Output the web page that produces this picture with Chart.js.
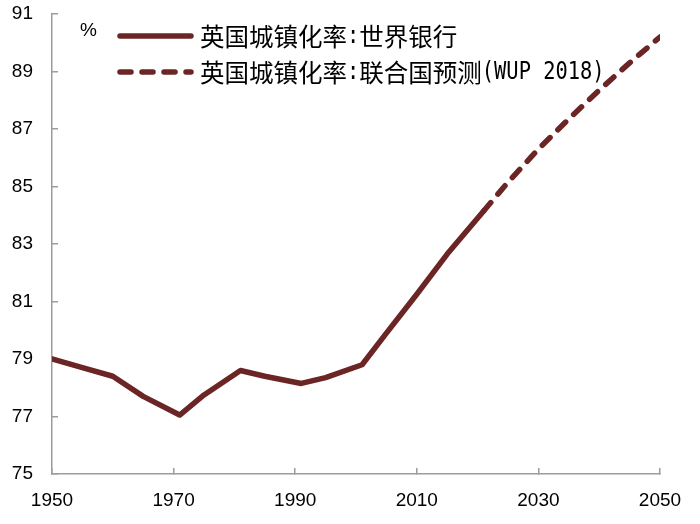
<!DOCTYPE html>
<html>
<head>
<meta charset="utf-8">
<script src="https://cdn.jsdelivr.net/npm/chart.js@4"></script>
<style>
  body { margin: 0; background: #fff; }
  #wrap { width: 700px; height: 524px; }
</style>
</head>
<body>
<div id="wrap"><canvas id="chart" width="700" height="524"></canvas></div>
<script>
// UK urbanisation rate (%), World Bank
const wbYears = [1950, 1955, 1960, 1965, 1971, 1975, 1981, 1985, 1991, 1995, 2001, 2005, 2010, 2015, 2021]
const wbValues = [79.0, 78.7, 78.4, 77.7, 77.05, 77.75, 78.6, 78.4, 78.15, 78.35, 78.8, 79.9, 81.25, 82.65, 84.15]

// UN projection (WUP 2018)
const unYears = [2021, 2025, 2030, 2035, 2040, 2045, 2050]
const unValues = [84.15, 85.15, 86.3, 87.35, 88.35, 89.3, 90.2]

const seriesNames = ['英国城镇化率:世界银行', '英国城镇化率:联合国预测(WUP 2018)']
const xTicks = [1950, 1970, 1990, 2010, 2030, 2050]
const yTicks = [75, 77, 79, 81, 83, 85, 87, 89, 91]

const lineColor = '#6b2525'
const axisColor = '#9c9c9c'

function toPoints(xs, ys) {
    return xs.map((x, i) => ({ x: x, y: ys[i] }))
}

// draws CJK runs full width and latin runs as narrow half-width glyphs
function drawMixedText(ctx, text, x, y) {
    const runs = text.match(/[\x20-\x7e]+|[^\x20-\x7e]+/g) || []
    for (let run of runs) {
        if (/^[\x20-\x7e]+$/.test(run)) {
            ctx.font = '24px "DejaVu Sans Mono"'
            const w = ctx.measureText(run).width * 0.85
            ctx.save()
            ctx.translate(x, y)
            ctx.scale(0.85, 1)
            ctx.fillText(run, 0, 0)
            ctx.restore()
            x += w
        } else {
            ctx.font = '24.5px "Noto Sans CJK SC"'
            ctx.fillText(run, x, y)
            x += ctx.measureText(run).width
        }
    }
}

// legend + unit label drawn on top of the plot
const legendPlugin = {
    id: 'insideLegend',
    afterDraw(chart) {
        const ctx = chart.ctx
        ctx.save()
        ctx.fillStyle = '#000'
        ctx.font = '19px "Liberation Sans", Arial'
        ctx.textBaseline = 'middle'
        ctx.textAlign = 'left'
        ctx.fillText('%', 80, 31)

        chart.data.datasets.forEach((ds, i) => {
            const y = 36 + i * 36
            ctx.strokeStyle = ds.borderColor
            ctx.lineWidth = ds.borderWidth
            ctx.lineCap = 'round'
            ctx.setLineDash(ds.borderDash || [])
            ctx.beginPath()
            ctx.moveTo(120, y)
            ctx.lineTo(191, y)
            ctx.stroke()
            ctx.setLineDash([])
            ctx.fillStyle = '#000'
            drawMixedText(ctx, ds.label, 200, y + 1)
        })
        ctx.restore()
    }
}

const ctx = document.getElementById('chart').getContext('2d')
const myChart = new Chart(ctx, {
    type: 'line',
    data: {
        datasets: [{
            label: seriesNames[0],
            data: toPoints(wbYears, wbValues),
            borderColor: lineColor,
            borderWidth: 5.5,
            borderCapStyle: 'round',
            borderJoinStyle: 'round',
            pointRadius: 0,
            tension: 0,
            fill: false
        }, {
            label: seriesNames[1],
            data: toPoints(unYears, unValues),
            borderColor: lineColor,
            borderWidth: 5.5,
            borderDash: [11, 11],
            borderCapStyle: 'round',
            pointRadius: 0,
            tension: 0,
            fill: false
        }]
    },
    options: {
        responsive: false,
        animation: false,
        layout: { padding: { top: 14, right: 40, left: 0, bottom: 0 } },
        plugins: {
            legend: { display: false },
            tooltip: { enabled: false }
        },
        scales: {
            x: {
                type: 'linear',
                min: 1950,
                max: 2050,
                afterFit: s => { s.height = 50; s.paddingLeft = 0; s.paddingRight = 0 },
                afterBuildTicks: s => { s.ticks = xTicks.map(v => ({ value: v })) },
                border: { color: axisColor, width: 1.5 },
                grid: { drawOnChartArea: false, drawTicks: true, tickLength: -6, color: axisColor, lineWidth: 1.5 },
                ticks: {
                    color: '#000',
                    font: { family: '"Liberation Sans", Arial', size: 19 },
                    padding: 21,
                    maxRotation: 0,
                    callback: v => String(v)
                }
            },
            y: {
                min: 75,
                max: 91,
                afterFit: s => { s.width = 52; s.paddingTop = 0; s.paddingBottom = 0 },
                afterBuildTicks: s => { s.ticks = yTicks.map(v => ({ value: v })) },
                border: { color: axisColor, width: 1.5 },
                grid: { drawOnChartArea: false, drawTicks: true, tickLength: -6, color: axisColor, lineWidth: 1.5 },
                ticks: {
                    color: '#000',
                    font: { family: '"Liberation Sans", Arial', size: 19 },
                    padding: 25,
                    callback: v => String(v)
                }
            }
        }
    },
    plugins: [legendPlugin]
})
</script>
</body>
</html>
